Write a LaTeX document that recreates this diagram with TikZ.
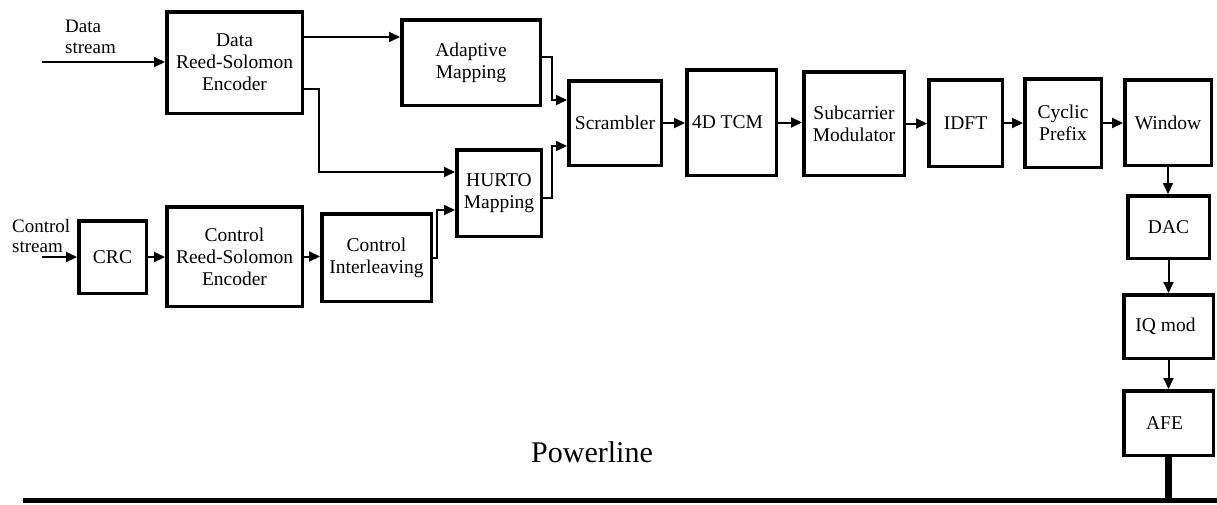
\documentclass[tikz,border=0pt]{standalone}
\usepackage{fontspec}
\setmainfont{Liberation Serif}
\usetikzlibrary{arrows.meta}
\begin{document}
\begin{tikzpicture}[x=1pt,y=-1pt,
  blk/.style={draw,line width=3.5pt,inner sep=0pt,align=center,font=\fontsize{19.5}{22}\selectfont},
  lbl/.style={align=left,inner sep=0pt,font=\fontsize{19}{20.5}\selectfont},
  arr/.style={line width=2pt,-{Triangle[length=11pt,width=10pt]}},
  wire/.style={line width=2pt}]
\useasboundingbox (0,0) rectangle (1217,504);
\def\bx#1#2#3#4#5#6{\node[blk,minimum width=#4-3.5pt,minimum height=#5-3.5pt] (#1) at (#2,#3) {#6};}
\bx{drse}{234.5}{62.5}{139pt}{105pt}{Data\\Reed-Solomon\\Encoder}
\bx{adapt}{471}{62.5}{142pt}{89pt}{Adaptive\\Mapping}
\bx{hurto}{499}{193}{88pt}{90pt}{HURTO\\Mapping}
\bx{crc}{112.5}{257}{71pt}{76pt}{CRC}
\bx{crse}{234.5}{256.5}{139pt}{103pt}{Control\\Reed-Solomon\\Encoder}
\bx{ci}{376.5}{257.5}{113pt}{91pt}{Control\\Interleaving}
\bx{scr}{615}{123}{96pt}{88pt}{Scrambler}
\bx{tcm}{731.5}{122.5}{93pt}{109pt}{4D TCM\hspace*{8pt}}
\bx{sub}{854}{123.5}{104pt}{107pt}{Subcarrier\\Modulator}
\bx{idft}{965.5}{123}{77pt}{90pt}{IDFT}
\bx{cp}{1063}{123}{80pt}{92pt}{Cyclic\\Prefix}
\bx{win}{1168}{122.5}{90pt}{89pt}{Window}
\bx{dac}{1168.5}{227}{85pt}{66pt}{DAC}
\bx{iq}{1168.5}{326.5}{93pt}{67pt}{IQ mod\hspace*{6pt}}
\bx{afe}{1168.5}{423}{93pt}{68pt}{AFE\hspace*{8pt}}
\node[lbl,anchor=west] (dsl) at (65,37) {Data\\stream};
\node[lbl,anchor=west] (csl) at (12,236) {Control\\stream};
\node[inner sep=0pt,font=\fontsize{30}{36}\selectfont] (pwr) at (592,452) {Powerline};
\coordinate (ds) at (42,62);
\coordinate (cs) at (42,257);
\coordinate (j1) at (319,172);
\coordinate (j2) at (437,210);
\coordinate (j3) at (552,100);
\coordinate (j4) at (552,146);
\coordinate (pl1) at (23,500);
\coordinate (pl2) at (1217,500);
\draw[arr] (ds) -- (ds -| drse.west);
\draw[arr] (cs) -- (cs -| crc.west);
\draw[arr] ([yshift=25.5pt]drse.east) -- ([yshift=25.5pt]drse.east -| adapt.west);
\draw[arr] ([yshift=-26.5pt]drse.east) -| (j1) -- (j1 -| hurto.west);
\draw[arr] (crc.east) -- (crc.east -| crse.west);
\draw[arr] (crse.east) -- (crse.east -| ci.west);
\draw[arr] (ci.east) -| (j2) -- (j2 -| hurto.west);
\draw[arr] ([yshift=6pt]adapt.east) -| (j3) -- (j3 -| scr.west);
\draw[arr] ([yshift=-5pt]hurto.east) -| (j4) -- (j4 -| scr.west);
\draw[arr] (scr.east) -- (scr.east -| tcm.west);
\draw[arr] (tcm.east) -- (tcm.east -| sub.west);
\draw[arr] (sub.east) -- (sub.east -| idft.west);
\draw[arr] (idft.east) -- (idft.east -| cp.west);
\draw[arr] (cp.east) -- (cp.east -| win.west);
\draw[arr] (win.south) -- (win.south |- dac.north);
\draw[arr] (dac.south) -- (dac.south |- iq.north);
\draw[arr] (iq.south) -- (iq.south |- afe.north);
\draw[line width=5pt] (pl1) -- (pl2);
\draw[line width=7pt] (afe.south) -- (afe.south |- pl1);
\end{tikzpicture}
\end{document}
